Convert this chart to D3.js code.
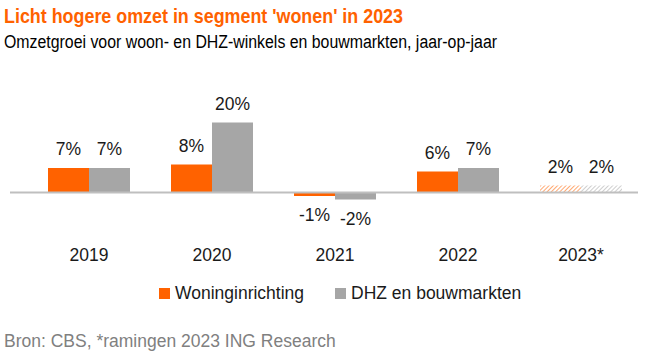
<!DOCTYPE html>
<html><head><meta charset="utf-8">
<script src="https://cdn.jsdelivr.net/npm/d3@7"></script>
<style>body{margin:0;background:#fff}svg{display:block;font-family:"Liberation Sans",Arial,sans-serif}</style>
</head><body><svg id="c" width="650" height="355"></svg>
<script>
const categories = ["2019","2020","2021","2022","2023*"];
const woon = [7, 8, -1, 6, 2];
const dhz = [7, 20, -2, 7, 2];
const labelsWoon = ["7%","8%","-1%","6%","2%"];
const labelsDhz = ["7%","20%","-2%","7%","2%"];
const forecast = [false,false,false,false,true];
const seriesNames = ["Woninginrichting","DHZ en bouwmarkten"];
const colors = ["#ff6200","#a6a6a6"];

const svg = d3.select("#c");
const defs = svg.append("defs");
colors.forEach((c,i)=>{
  const p = defs.append("pattern").attr("id","h"+i).attr("patternUnits","userSpaceOnUse")
    .attr("width",3).attr("height",3).attr("patternTransform","rotate(45)");
  p.append("rect").attr("width",3).attr("height",3).attr("fill","#fff");
  p.append("line").attr("x1",0).attr("y1",0).attr("x2",0).attr("y2",3).attr("stroke",c).attr("stroke-width",1.6).attr("opacity",0.7);
});

const x = d3.scaleBand().domain(categories).range([27.5, 642.5]).padding(0);
const bw = 41;
const y = d3.scaleLinear().domain([-2, 20]).range([199.5, 122.5]);
const txt = "#1a1a1a";

svg.append("text").attr("x",4).attr("y",22.5).attr("fill","#ff6200").attr("font-weight","bold")
  .attr("font-size",21).attr("textLength",399).attr("lengthAdjust","spacingAndGlyphs")
  .text("Licht hogere omzet in segment 'wonen' in 2023");
svg.append("text").attr("x",4).attr("y",47.5).attr("fill","#000")
  .attr("font-size",18).attr("textLength",493).attr("lengthAdjust","spacingAndGlyphs")
  .text("Omzetgroei voor woon- en DHZ-winkels en bouwmarkten, jaar-op-jaar");

const series = [woon, dhz];
const labs = [labelsWoon, labelsDhz];
series.forEach((vals,si)=>{
  const g = svg.append("g");
  categories.forEach((cat,i)=>{
    const v = vals[i];
    const cx = x(cat) + x.bandwidth()/2;
    const x0 = si===0 ? cx - bw : cx;
    const top = Math.min(y(v), y(0)), h = Math.abs(y(v)-y(0));
    g.append("rect").attr("x",x0).attr("y",top).attr("width",bw).attr("height",h)
      .attr("fill", forecast[i] ? `url(#h${si})` : colors[si]);
    const ly = v >= 0 ? y(v) - 13 : y(v) + 25;
    g.append("text").attr("x",x0+bw/2).attr("y",ly).attr("text-anchor","middle")
      .attr("font-size",17.5).attr("fill",txt).text(labs[si][i]);
  });
});

svg.append("line").attr("x1",10).attr("x2",638).attr("y1",y(0)).attr("y2",y(0))
  .attr("stroke","#bfbfbf").attr("stroke-width",2);

const xa = svg.append("g").attr("transform",`translate(0,${y(0)})`)
  .call(d3.axisBottom(x).tickSize(0).tickPadding(0));
xa.select(".domain").remove();
xa.selectAll("text").attr("font-size",17.5).attr("fill",txt).attr("dy",0).attr("y",68)
  .attr("font-family","Liberation Sans, Arial, sans-serif");

const legX = [159, 335];
seriesNames.forEach((n,i)=>{
  svg.append("rect").attr("x",legX[i]).attr("y",288).attr("width",11).attr("height",11).attr("fill",colors[i]);
  svg.append("text").attr("x",legX[i]+16).attr("y",299).attr("font-size",17.5).attr("fill",txt).text(n);
});

svg.append("text").attr("x",4).attr("y",347).attr("font-size",17.5).attr("fill","#808080")
  .text("Bron: CBS, *ramingen 2023 ING Research");
</script></body></html>
